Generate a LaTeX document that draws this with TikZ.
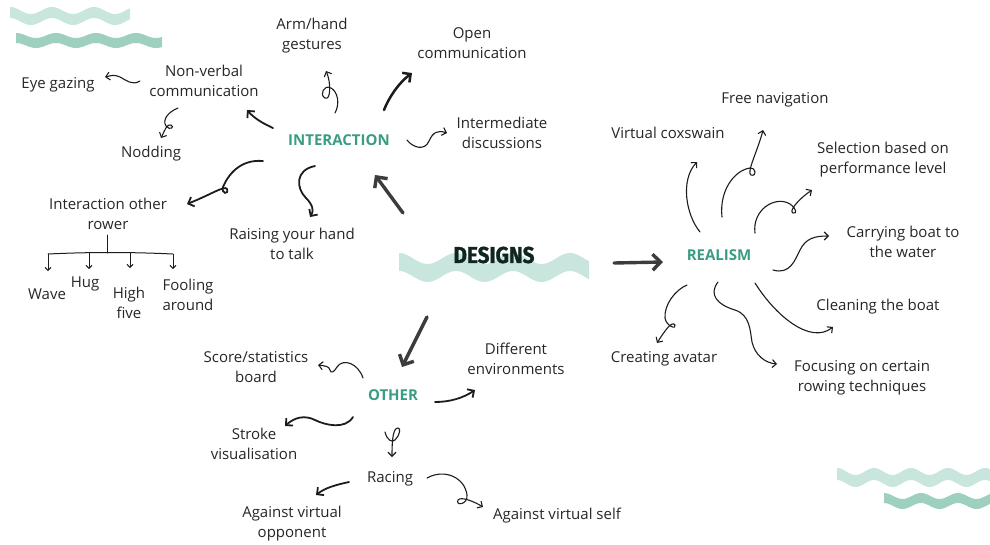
\documentclass[tikz,border=0pt]{standalone}
\usepackage{fontspec}
\setmainfont{Open Sans}
\newfontfamily\dfont[FakeStretch=0.9, BoldFeatures={FakeBold=1.2}]{Fira Sans}
\usetikzlibrary{arrows.meta}
\definecolor{teal1}{HTML}{3A9C82}
\definecolor{wlight}{HTML}{C8E6DD}
\definecolor{wdark}{HTML}{9DD0BE}
\definecolor{ink}{HTML}{1C1C1C}
\definecolor{bigink}{HTML}{3C3C3C}
\definecolor{txt}{HTML}{262626}
\definecolor{dtxt}{HTML}{0F2620}
% xstart xend xpeak ytop amp period thick color
\newcommand\wavefill[8]{%
\fill[#8] plot[domain=#1:#2,samples=120] (\x,{#4+#5-#5*cos(((\x-#3)/#6)*360)}) --
 plot[domain=#2:#1,samples=120] (\x,{#4+#5+#7-#5*cos(((\x-#3)/#6)*360)}) -- cycle;}
\tikzset{
 lbl/.style={font=\fontsize{15}{20}\selectfont, align=center, text=txt, inner sep=0pt, yshift=-1.5pt},
 hd/.style={font=\fontsize{15}{20}\selectfont\bfseries, text=teal1, inner sep=0pt, yshift=-1pt},
 dz/.style={font=\fontsize{23}{26}\selectfont\dfont\bfseries, text=dtxt, inner sep=0pt},
 thin/.style={draw=ink, line width=1.1pt, line cap=round, -{Straight Barb[length=4pt,width=8pt]}},
 med/.style={draw=ink, line width=1.8pt, line cap=round, -{Straight Barb[length=5pt,width=10pt]}},
 thk/.style={draw=ink, line width=2.5pt, line cap=round, -{Straight Barb[length=6pt,width=12pt]}},
 big/.style={draw=bigink, line width=3.4pt, line cap=round, -{Straight Barb[length=8pt,width=16pt]}},
 tree/.style={draw=ink, line width=1pt, line cap=round},
 treearr/.style={draw=ink, line width=1pt, -{Straight Barb[length=3pt,width=6pt]}},
}
\begin{document}
\begin{tikzpicture}[x=1pt,y=-1pt]
\useasboundingbox (0,0) rectangle (990,544);
% waves
\wavefill{10}{130}{10}{7}{3.5}{42}{11}{wlight}
\wavefill{16}{162}{16}{33}{2.5}{40}{10}{wdark}
\wavefill{399}{589}{399}{253}{5.5}{57}{18}{wlight}
\wavefill{837}{990}{837}{468}{3.5}{37}{12}{wlight}
\wavefill{884}{990}{884}{493}{3}{37}{10}{wdark}

% nodes
\node[lbl] (arm) at (312,34) {Arm/hand\\gestures};
\node[lbl] (open) at (472,42) {Open\\communication};
\node[lbl] (eye) at (58,83) {Eye gazing};
\node[lbl] (nonv) at (204,79) {Non-verbal\\communication};
\node[lbl] (nod) at (151,152) {Nodding};
\node[hd] (inter) at (339,139) {INTERACTION};
\node[lbl] (interm) at (502,131) {Intermediate\\discussions};
\node[lbl] (orow) at (108,212) {Interaction other\\rower};
\node[lbl] (raise) at (292,242) {Raising your hand\\to talk};
\node[lbl] (wave) at (47,293) {Wave};
\node[lbl] (hug) at (85,282) {Hug};
\node[lbl] (high) at (129,301) {High\\five};
\node[lbl] (fool) at (188,293) {Fooling\\around};
\node[dz] (designs) at (494,255) {DESIGNS};
\node[hd] (real) at (719,254) {REALISM};
\node[lbl] (free) at (775,98) {Free navigation};
\node[lbl] (cox) at (668,131) {Virtual coxswain};
\node[lbl] (sel) at (883,158) {Selection based on\\performance level};
\node[lbl] (carry) at (903,240) {Carrying boat to\\the water};
\node[lbl] (clean) at (878,305) {Cleaning the boat};
\node[lbl] (avatar) at (664,357) {Creating avatar};
\node[lbl] (focus) at (862,376) {Focusing on certain\\rowing techniques};
\node[lbl] (score) at (256,366) {Score/statistics\\board};
\node[lbl] (diff) at (516,357) {Different\\environments};
\node[hd] (oth) at (393,394) {OTHER};
\node[lbl] (stroke) at (254,442) {Stroke\\visualisation};
\node[lbl] (racing) at (390,477) {Racing};
\node[lbl] (opp) at (292,522) {Against virtual\\opponent};
\node[lbl] (self) at (557,514) {Against virtual self};

% main arrows
\draw[big] (403,213) -- (375,175);
\draw[big] (614,263) -- (663,262);
\draw[big] (427,317) -- (402,367);

% interaction
\draw[med] (273,128) .. controls (262,123) and (254,118) .. (247,110);
\draw[thin] (335,113) .. controls (340,104) and (338,92) .. (331,88) .. controls (324,84) and (319,95) .. (325,98) .. controls (331,101) and (331,82) .. (326,71);
\draw[thk] (384,110) .. controls (390,95) and (400,82) .. (412,73);
\draw[thin] (407,140) .. controls (413,148) and (425,151) .. (429,141) .. controls (433,132) and (438,130) .. (447,133);
\draw[med] (263,161) .. controls (240,159) and (228,175) .. (223,187) .. controls (221,194) and (229,195) .. (227,189) .. controls (225,185) and (210,195) .. (187,204);
\draw[med] (315,166) .. controls (295,170) and (296,188) .. (306,198) .. controls (313,205) and (314,211) .. (310,217);
\draw[thin] (140,81) .. controls (132,86) and (126,80) .. (120,77) .. controls (114,74) and (110,76) .. (105,77);
\draw[thin] (178,108) .. controls (168,112) and (162,120) .. (166,126) .. controls (170,131) and (175,127) .. (171,125) .. controls (167,123) and (164,132) .. (161,138);

% tree
\draw[tree] (107,235) -- (107,253);
\draw[tree] (48,254) .. controls (90,252) and (130,252) .. (173,254);
\draw[treearr] (48,254) -- (48,271);
\draw[treearr] (89,253) -- (89,269);
\draw[treearr] (130,253) -- (130,268);
\draw[treearr] (173,254) -- (173,269);

% realism
\draw[thin] (700,232) .. controls (686,215) and (680,180) .. (697,162);
\draw[thin] (722,217) .. controls (719,190) and (735,170) .. (750,168) .. controls (756,167) and (757,177) .. (751,175) .. controls (746,173) and (758,150) .. (763,130);
\draw[thin] (755,233) .. controls (752,210) and (775,195) .. (790,204) .. controls (797,209) and (797,214) .. (793,213) .. controls (788,211) and (800,198) .. (812,190);
\draw[thin] (773,270) .. controls (790,275) and (795,260) .. (800,250) .. controls (806,238) and (815,236) .. (829,236);
\draw[thin] (687,285) .. controls (675,290) and (664,305) .. (665,318) .. controls (666,326) and (677,330) .. (675,325) .. controls (672,320) and (664,332) .. (657,343);
\draw[thin] (718,282) .. controls (708,295) and (718,305) .. (735,310) .. controls (750,315) and (750,330) .. (752,342) .. controls (755,355) and (765,363) .. (777,364);
\draw[thin] (755,283) .. controls (775,315) and (810,345) .. (833,327);

% other
\draw[thin] (363,378) .. controls (358,363) and (343,358) .. (337,367) .. controls (334,372) and (331,374) .. (330,370) .. controls (329,366) and (325,366) .. (318,365);
\draw[med] (435,402) .. controls (450,402) and (463,398) .. (475,390);
\draw[med] (353,417) .. controls (345,430) and (325,425) .. (315,420) .. controls (305,415) and (295,417) .. (285,426);
\draw[thin] (385,432) .. controls (387,440) and (392,443) .. (395,440) .. controls (400,435) and (401,428) .. (398,428) .. controls (393,428) and (392,440) .. (392,457);
\draw[med] (349,482) .. controls (335,485) and (325,488) .. (316,495);
\draw[thin] (427,478) .. controls (445,468) and (465,478) .. (467,495) .. controls (468,505) and (455,506) .. (458,500) .. controls (461,496) and (475,502) .. (483,507);
\end{tikzpicture}
\end{document}
